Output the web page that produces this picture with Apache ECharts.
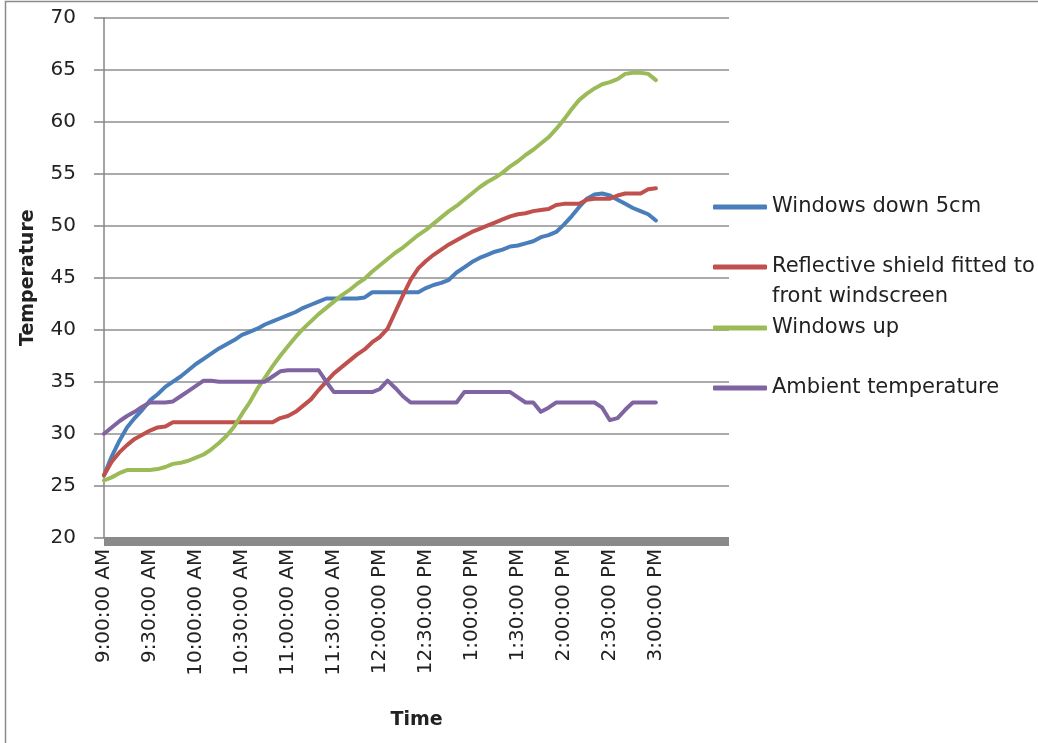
<!DOCTYPE html>
<html>
<head>
<meta charset="utf-8">
<script src="https://cdn.jsdelivr.net/npm/echarts@6/dist/echarts.min.js"></script>
<style>
  html, body { margin: 0; padding: 0; background: #ffffff; }
  #chart { width: 1038px; height: 743px; }
</style>
</head>
<body>
<div id="chart"></div>
<script>
// Minutes after 9:00 AM at which values were read
const minutes = [0,5,10,15,20,25,30,35,40,45,50,55,60,65,70,75,80,85,90,95,100,105,110,115,120,125,130,135,140,145,150,155,160,165,170,175,180,185,190,195,200,205,210,215,220,225,230,235,240,245,250,255,260,265,270,275,280,285,290,295,300,305,310,315,320,325,330,335,340,345,350,355,360];

const windowsDown = [26.0,27.8,29.3,30.6,31.5,32.3,33.2,33.8,34.5,35.0,35.5,36.1,36.7,37.2,37.7,38.2,38.6,39.0,39.5,39.8,40.1,40.5,40.8,41.1,41.4,41.7,42.1,42.4,42.7,43.0,43.0,43.0,43.0,43.0,43.1,43.6,43.6,43.6,43.6,43.6,43.6,43.6,44.0,44.3,44.5,44.8,45.5,46.0,46.5,46.9,47.2,47.5,47.7,48.0,48.1,48.3,48.5,48.9,49.1,49.4,50.1,50.9,51.8,52.6,53.0,53.1,52.9,52.5,52.1,51.7,51.4,51.1,50.5];

const reflectiveShield = [26.0,27.3,28.2,28.9,29.5,29.9,30.3,30.6,30.7,31.1,31.1,31.1,31.1,31.1,31.1,31.1,31.1,31.1,31.1,31.1,31.1,31.1,31.1,31.5,31.7,32.1,32.7,33.3,34.2,35.0,35.8,36.4,37.0,37.6,38.1,38.8,39.3,40.1,41.7,43.3,44.8,45.9,46.6,47.2,47.7,48.2,48.6,49.0,49.4,49.7,50.0,50.3,50.6,50.9,51.1,51.2,51.4,51.5,51.6,52.0,52.1,52.1,52.1,52.5,52.6,52.6,52.6,52.9,53.1,53.1,53.1,53.5,53.6];

const windowsUp = [25.5,25.8,26.2,26.5,26.5,26.5,26.5,26.6,26.8,27.1,27.2,27.4,27.7,28.0,28.5,29.1,29.8,30.7,31.9,33.0,34.3,35.4,36.5,37.5,38.4,39.3,40.1,40.8,41.5,42.1,42.7,43.3,43.8,44.4,44.9,45.6,46.2,46.8,47.4,47.9,48.5,49.1,49.6,50.2,50.8,51.4,51.9,52.5,53.1,53.7,54.2,54.6,55.1,55.7,56.2,56.8,57.3,57.9,58.5,59.3,60.2,61.2,62.1,62.7,63.2,63.6,63.8,64.1,64.6,64.7,64.7,64.6,64.0];

const ambient = [30.0,30.6,31.2,31.7,32.1,32.6,33.0,33.0,33.0,33.1,33.6,34.1,34.6,35.1,35.1,35.0,35.0,35.0,35.0,35.0,35.0,35.0,35.5,36.0,36.1,36.1,36.1,36.1,36.1,35.0,34.0,34.0,34.0,34.0,34.0,34.0,34.3,35.1,34.4,33.6,33.0,33.0,33.0,33.0,33.0,33.0,33.0,34.0,34.0,34.0,34.0,34.0,34.0,34.0,33.5,33.0,33.0,32.1,32.5,33.0,33.0,33.0,33.0,33.0,33.0,32.5,31.3,31.5,32.3,33.0,33.0,33.0,33.0];

const timeLabels = ['9:00:00 AM','9:30:00 AM','10:00:00 AM','10:30:00 AM','11:00:00 AM','11:30:00 AM','12:00:00 PM','12:30:00 PM','1:00:00 PM','1:30:00 PM','2:00:00 PM','2:30:00 PM','3:00:00 PM'];

const seriesNames = ['Windows down 5cm','Reflective shield fitted to front windscreen','Windows up','Ambient temperature'];
const seriesValues = [windowsDown, reflectiveShield, windowsUp, ambient];
const seriesColors = ['#4A7EBB','#C0504D','#9BBB59','#8064A2'];

const chart = echarts.init(document.getElementById('chart'), null, { renderer: 'canvas' });

const legendBase = {
  orient: 'vertical',
  left: 713,
  padding: 0,
  itemGap: 0,
  itemWidth: 54,
  itemHeight: 5,
  icon: 'roundRect',
  selectedMode: false,
  textStyle: { fontFamily: 'DejaVu Sans', fontSize: 21, color: '#222', lineHeight: 30 }
};

const option = {
  animation: false,
  backgroundColor: '#ffffff',
  textStyle: { fontFamily: 'DejaVu Sans' },
  graphic: [{
    type: 'rect',
    shape: { x: 5.5, y: 1.5, width: 1100, height: 800 },
    style: { fill: 'none', stroke: '#8c8c8c', lineWidth: 1.5 },
    silent: true
  }],
  grid: { left: 104, top: 17.7, right: 309, bottom: 205.3 },
  legend: [
    Object.assign({}, legendBase, { data: [seriesNames[0]], top: 192 }),
    Object.assign({}, legendBase, {
      data: [seriesNames[1]], top: 222,
      formatter: () => ' \nReflective shield fitted to\nfront windscreen'
    }),
    Object.assign({}, legendBase, { data: [seriesNames[2]], top: 313 }),
    Object.assign({}, legendBase, { data: [seriesNames[3]], top: 373 })
  ],
  xAxis: {
    type: 'value',
    min: 0,
    max: 407.7,
    interval: 30,
    offset: 4,
    name: 'Time',
    nameLocation: 'middle',
    nameGap: 169,
    nameTextStyle: { fontFamily: 'DejaVu Sans', fontSize: 19, fontWeight: 'bold', color: '#222' },
    axisLine: { show: true, lineStyle: { color: '#8a8a8a', width: 9, cap: 'butt' } },
    axisTick: { show: false },
    splitLine: { show: false },
    axisLabel: {
      rotate: 90,
      margin: 7,
      fontSize: 20,
      color: '#222',
      showMaxLabel: false,
      formatter: v => {
        if (Math.abs(v % 30) > 1e-6) return '';
        const i = Math.round(v / 30);
        return i < timeLabels.length ? timeLabels[i] : '';
      }
    }
  },
  yAxis: {
    type: 'value',
    min: 20,
    max: 70,
    interval: 5,
    name: 'Temperature',
    nameLocation: 'middle',
    nameGap: 66,
    nameTextStyle: { fontFamily: 'DejaVu Sans', fontSize: 19, fontWeight: 'bold', color: '#222' },
    axisLine: { show: true, lineStyle: { color: '#868686', width: 1.5 } },
    axisTick: { show: true, length: 10, lineStyle: { color: '#868686', width: 1.5 } },
    splitLine: { show: true, lineStyle: { color: '#8f8f8f', width: 1.5 } },
    axisLabel: { margin: 28, fontSize: 20, color: '#222' }
  },
  series: seriesNames.map((name, k) => ({
    name: name,
    type: 'line',
    showSymbol: false,
    symbol: 'none',
    color: seriesColors[k],
    lineStyle: { width: 4, color: seriesColors[k], cap: 'round', join: 'round' },
    data: minutes.map((m, i) => [m, seriesValues[k][i]])
  }))
};

chart.setOption(option);
</script>
</body>
</html>
